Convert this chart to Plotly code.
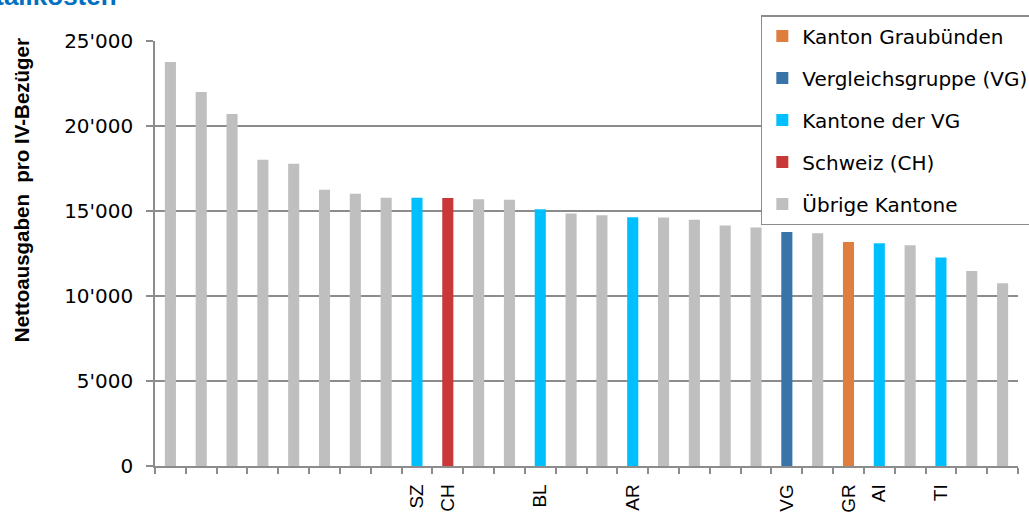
import plotly.graph_objects as go

# ---- data ----
canton_ids = ["K01", "K02", "K03", "K04", "K05", "K06", "K07", "K08", "SZ", "CH",
              "K11", "K12", "BL", "K14", "K15", "AR", "K17", "K18", "K19", "K20",
              "VG", "K22", "GR", "AI", "K25", "TI", "K27", "K28"]
tick_labels = ["", "", "", "", "", "", "", "", "SZ", "CH",
               "", "", "BL", "", "", "AR", "", "", "", "",
               "VG", "", "GR", "AI", "", "TI", "", ""]
net_costs = [23760, 22000, 20700, 18020, 17780, 16250, 16020, 15780, 15780, 15760,
             15690, 15660, 15100, 14860, 14750, 14630, 14620, 14490, 14150, 14030,
             13760, 13690, 13180, 13100, 12980, 12270, 11470, 10750]
groups = ["UE", "UE", "UE", "UE", "UE", "UE", "UE", "UE", "KVG", "CH",
          "UE", "UE", "KVG", "UE", "UE", "KVG", "UE", "UE", "UE", "UE",
          "VG", "UE", "GR", "KVG", "UE", "KVG", "UE", "UE"]
group_order = ["GR", "VG", "KVG", "CH", "UE"]
group_names = {"GR": "Kanton Graubünden", "VG": "Vergleichsgruppe (VG)",
               "KVG": "Kantone der VG", "CH": "Schweiz (CH)", "UE": "Übrige Kantone"}
group_colors = {"GR": "#DE7F40", "VG": "#3874A7", "KVG": "#00BFFF",
                "CH": "#C83838", "UE": "#BFBFBF"}
y_ticks = [0, 5000, 10000, 15000, 20000, 25000]

fig = go.Figure()
for g in group_order:
    xs = [c for c, gg in zip(canton_ids, groups) if gg == g]
    ys = [v for v, gg in zip(net_costs, groups) if gg == g]
    fig.add_trace(go.Bar(x=xs, y=ys, name=group_names[g], legendgroup=g,
                         marker=dict(color=group_colors[g], line=dict(width=0))))

axis_grey = "#8C8C8C"
fig.update_layout(
    width=1029, height=514,
    margin=dict(l=155, r=11, t=41, b=48, autoexpand=False),
    paper_bgcolor="white", plot_bgcolor="white",
    barmode="overlay", bargap=0.64,
    separators=".'",
    font=dict(family="DejaVu Sans", size=20, color="black"),
    showlegend=True,
    legend=dict(x=0.702, y=1.061, xanchor="left", yanchor="top",
                bgcolor="white", bordercolor=axis_grey, borderwidth=1.5,
                font=dict(family="DejaVu Sans", size=20, color="black"),
                tracegroupgap=13, traceorder="grouped"),
)
fig.update_xaxes(
    type="category", categoryorder="array", categoryarray=canton_ids,
    tickmode="array", tickvals=canton_ids, ticktext=tick_labels,
    tickson="boundaries", ticks="outside", ticklen=6, tickcolor=axis_grey, tickwidth=1.5,
    tickangle=-90, ticklabelstandoff=9,
    tickfont=dict(family="Liberation Sans", size=19, color="black"),
    showline=True, linecolor=axis_grey, linewidth=1.5, showgrid=False,
    automargin=False, range=[-0.5, len(canton_ids) - 0.5],
)
fig.update_yaxes(
    range=[0, 25000], tickmode="array", tickvals=y_ticks, tickformat=",",
    ticks="outside", ticklen=7, tickcolor=axis_grey, tickwidth=1.5,
    ticklabelstandoff=9,
    tickfont=dict(family="DejaVu Sans", size=20, color="black"),
    showline=True, linecolor=axis_grey, linewidth=1.5,
    showgrid=True, gridcolor=axis_grey, gridwidth=1.5,
    zeroline=False, automargin=False,
)
fig.add_annotation(text="Nettoausgaben  pro IV-Bezüger", textangle=-90,
                   xref="paper", yref="paper", x=-0.1553, y=0.649,
                   xanchor="center", yanchor="middle", showarrow=False,
                   font=dict(family="Liberation Sans", size=20.5, color="black", weight="bold"))
fig.add_annotation(text="Detailkosten", xref="paper", yref="paper",
                   x=-0.0417, y=1.0664, xanchor="right", yanchor="bottom", showarrow=False,
                   font=dict(family="Liberation Sans", size=26, color="#0070C0", weight="bold"))

fig.write_html("out.html", config={"displayModeBar": False},
               post_script="document.body.style.margin='0px';")
